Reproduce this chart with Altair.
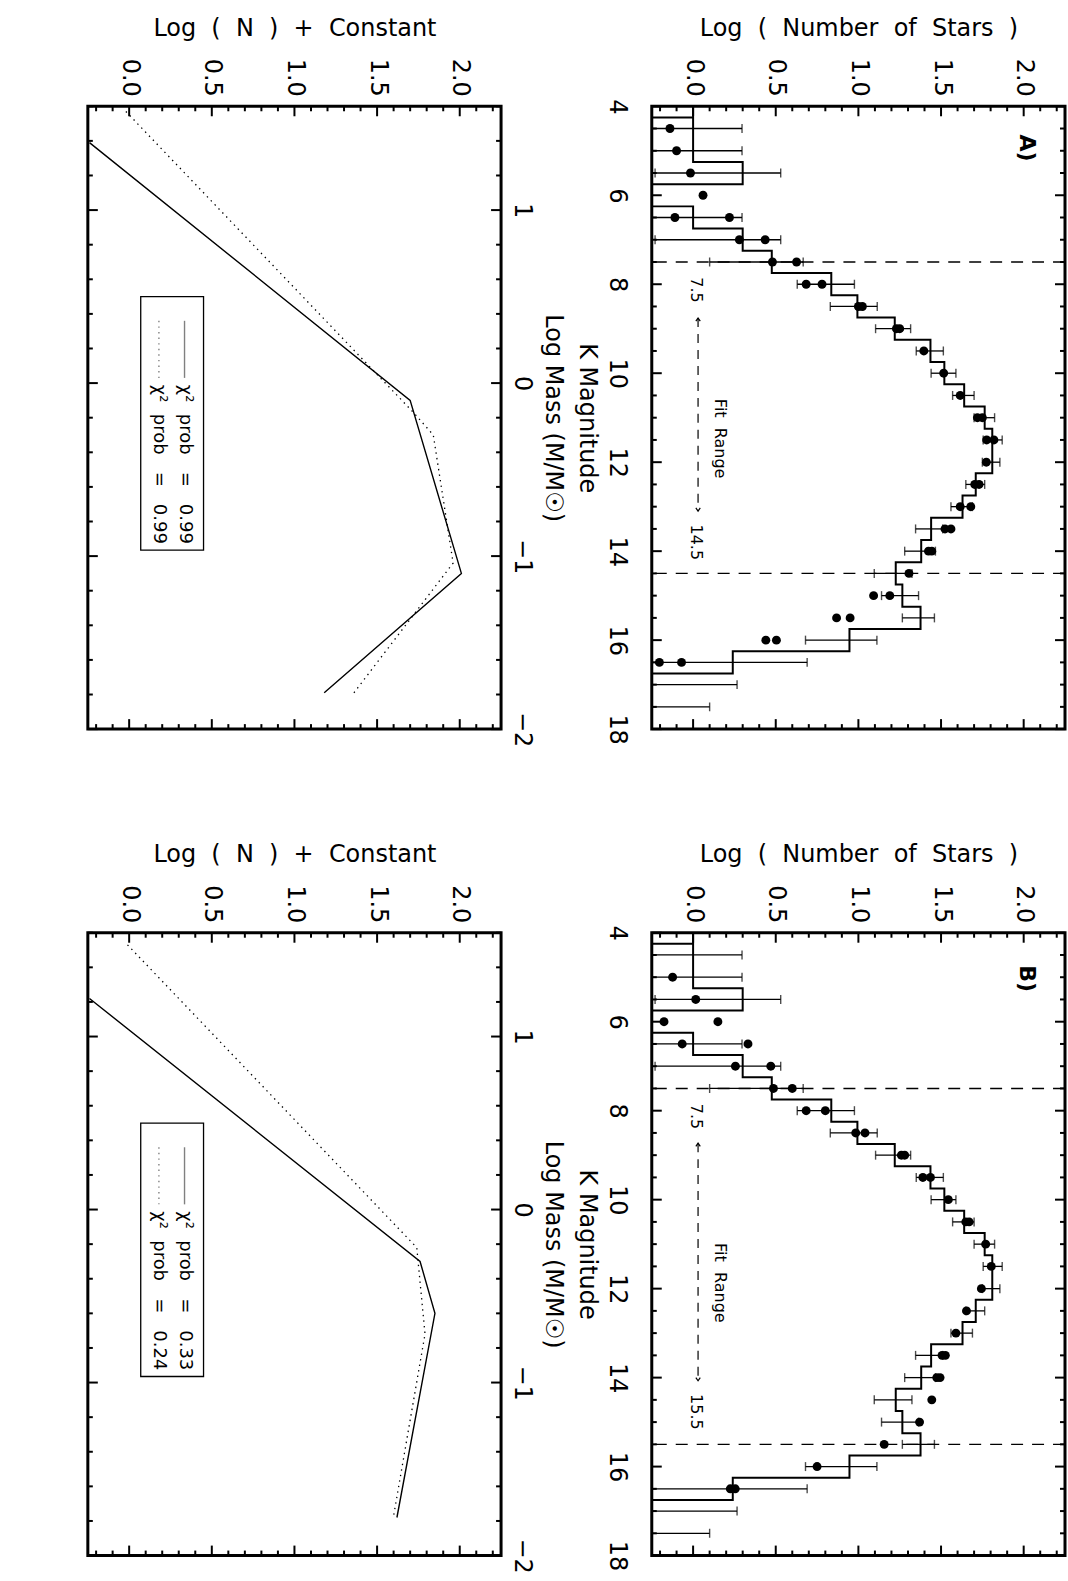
import altair as alt
import numpy as np
import pandas as pd

FONT = "DejaVu Sans"
PANEL_W, PANEL_H = 414, 624
OFF = -1.0  # stands in for log(0): lies outside the plotted range and is clipped

# ---------------- observed K-band histogram (0.5 mag bins, same in A and B)
HIST_K = [4.0, 4.5, 5.0, 5.5, 6.0, 6.5, 7.0, 7.5, 8.0, 8.5, 9.0, 9.5, 10.0, 10.5,
          11.0, 11.5, 12.0, 12.5, 13.0, 13.5, 14.0, 14.5, 15.0, 15.5, 16.0, 16.5, 17.0, 17.5]
HIST_LOGN = [0.0, 0.0, 0.0, 0.30, None, 0.0, 0.30, 0.476, 0.836, 0.994, 1.22, 1.436, 1.52, 1.64,
             1.764, 1.81, 1.81, 1.71, 1.63, 1.44, 1.38, 1.226, 1.266, 1.376, 0.946, 0.24, None, None]

# counting errors on the histogram (None = unbounded below)
ERR_K = [4.5, 5.0, 5.5, 6.5, 7.0, 7.5, 8.0, 8.5, 9.0, 9.5, 10.0, 10.5, 11.0,
         11.5, 12.0, 12.5, 13.0, 13.5, 14.0, 14.5, 15.0, 15.5, 16.0, 16.5, 17.0, 17.5]
ERR_LO = [None, None, -0.23, None, -0.23, 0.10, 0.63, 0.83, 1.104, 1.35, 1.44, 1.57, 1.70,
          1.755, 1.75, 1.65, 1.56, 1.346, 1.28, 1.096, 1.14, 1.266, 0.68, None, None, None]
ERR_HI = [0.296, 0.296, 0.53, 0.296, 0.53, 0.666, 0.976, 1.114, 1.316, 1.514, 1.59, 1.70, 1.824,
          1.87, 1.856, 1.764, 1.69, 1.51, 1.466, 1.324, 1.364, 1.46, 1.112, 0.69, 0.266, 0.10]

# model luminosity functions (filled circles)
DOTS_A_K = [4.5, 5.0, 5.5, 6.0, 6.5, 6.5, 7.0, 7.0, 7.5, 7.5, 8.0, 8.0, 8.5, 8.5, 9.0, 9.0,
            9.5, 10.0, 10.5, 11.0, 11.0, 11.5, 11.5, 12.0, 12.5, 12.5, 13.0, 13.0, 13.5, 13.5,
            14.0, 14.0, 14.5, 15.0, 15.0, 15.5, 15.5, 16.0, 16.0, 16.5, 16.5]
DOTS_A_LOGN = [-0.14, -0.10, -0.016, 0.06, -0.11, 0.22, 0.28, 0.436, 0.48, 0.626, 0.684, 0.78,
               1.0, 1.024, 1.23, 1.25, 1.396, 1.516, 1.616, 1.72, 1.75, 1.776, 1.82, 1.774,
               1.704, 1.73, 1.616, 1.68, 1.524, 1.56, 1.424, 1.444, 1.306, 1.092, 1.19,
               0.868, 0.95, 0.44, 0.504, -0.204, -0.07]
DOTS_B_K = [5.0, 5.5, 6.0, 6.0, 6.5, 6.5, 7.0, 7.0, 7.5, 7.5, 8.0, 8.0, 8.5, 8.5, 9.0, 9.0,
            9.5, 9.5, 10.0, 10.5, 10.5, 11.0, 11.5, 12.0, 12.5, 13.0, 13.5, 13.5, 14.0, 14.0,
            14.5, 15.0, 15.5, 16.0, 16.5, 16.5]
DOTS_B_LOGN = [-0.124, 0.016, -0.176, 0.15, -0.066, 0.332, 0.256, 0.47, 0.486, 0.60, 0.684, 0.80,
               0.984, 1.04, 1.26, 1.28, 1.39, 1.436, 1.544, 1.65, 1.67, 1.77, 1.804, 1.744,
               1.654, 1.59, 1.506, 1.526, 1.474, 1.494, 1.444, 1.37, 1.156, 0.75, 0.225, 0.255]

FIT_A = [7.5, 14.5]
FIT_B = [7.5, 15.5]

# ---------------- mass functions
MF_A_SOLID_M = [1.39, -0.10, -1.10, -1.79]
MF_A_SOLID_N = [-0.24, 1.70, 2.01, 1.18]
MF_A_DOT_M = [1.57, -0.17, -0.30, -1.04, -1.79]
MF_A_DOT_N = [-0.02, 1.72, 1.84, 1.96, 1.36]
MF_B_SOLID_M = [1.22, -0.30, -0.60, -1.78]
MF_B_SOLID_N = [-0.24, 1.76, 1.85, 1.62]
MF_B_DOT_M = [1.53, -0.22, -0.72, -1.77]
MF_B_DOT_N = [-0.01, 1.74, 1.79, 1.60]

CHI2_A = [0.99, 0.99]
CHI2_B = [0.33, 0.24]

# ---------------- scales and shared styling
SN = alt.Scale(domain=[-0.25, 2.25], nice=False, zero=False)
SK = alt.Scale(domain=[4, 18], reverse=True, nice=False, zero=False)
SM = alt.Scale(domain=[-2.0, 1.6], nice=False, zero=False)

NB = "\u00a0"


def spaced(*words, gap=2):
    return (NB * gap).join(words)


def XN(field):
    return alt.X(field, type="quantitative", scale=SN)


def YK(field):
    return alt.Y(field, type="quantitative", scale=SK)


def YM(field):
    return alt.Y(field, type="quantitative", scale=SM)


AX_COMMON = dict(ticks=False, tickSize=0, domain=False, grid=False, labelFlush=False,
                 labelOverlap=False, labelFont=FONT, titleFont=FONT, labelFontSize=24,
                 titleFontSize=24, titleFontWeight="normal", labelColor="black",
                 titleColor="black")


def top_axis(title):
    return alt.Axis(orient="top", title=title, values=[0.0, 0.5, 1.0, 1.5, 2.0], format=".1f",
                    labelAngle=90, labelAlign="right", labelBaseline="middle",
                    labelPadding=10, titlePadding=18, **AX_COMMON)


def k_axis():
    return alt.Axis(orient="left", title="K Magnitude", values=list(range(4, 19, 2)),
                    format="d", labelAngle=90, labelAlign="center", labelBaseline="top",
                    labelPadding=23, titleAngle=90, titleBaseline="top", titlePadding=6,
                    **AX_COMMON)


def mass_axis():
    return alt.Axis(orient="right", title="Log Mass (M/M\u2609)", values=[1, 0, -1, -2],
                    format="d", labelAngle=90, labelAlign="center", labelBaseline="bottom",
                    labelPadding=8, titleAngle=90, titleBaseline="bottom", titlePadding=8,
                    **AX_COMMON)


def inner_ticks(x_major, x_minor, y_major, y_minor, yenc):
    """IDL-style ticks drawn inward on all four sides of the frame."""
    layers = []
    for vals, ln in ((x_major, 10), (x_minor, 5)):
        base = alt.Chart(pd.DataFrame({"v": vals})).mark_rule(color="black", strokeWidth=2)
        layers.append(base.encode(x=XN("v"), y=alt.value(0), y2=alt.value(ln)))
        layers.append(base.encode(x=XN("v"), y=alt.value(PANEL_H), y2=alt.value(PANEL_H - ln)))
    for vals, ln in ((y_major, 10), (y_minor, 5)):
        base = alt.Chart(pd.DataFrame({"v": vals})).mark_rule(color="black", strokeWidth=2)
        layers.append(base.encode(y=yenc("v"), x=alt.value(0), x2=alt.value(ln)))
        layers.append(base.encode(y=yenc("v"), x=alt.value(PANEL_W), x2=alt.value(PANEL_W - ln)))
    return layers


N_MAJOR = [0.0, 0.5, 1.0, 1.5, 2.0]
N_MINOR = [round(v, 1) for v in np.arange(-0.2, 2.25, 0.1) if round(v * 10) % 5 != 0]
K_MAJOR = list(range(4, 19, 2))
K_MINOR = [v for v in np.arange(4.0, 18.01, 0.5) if v % 2 != 0]
M_MAJOR = [1, 0, -1, -2]
M_MINOR = [round(v, 1) for v in np.arange(-2.0, 1.61, 0.2) if abs(v - round(v)) > 1e-6]


def histogram_path():
    rows = []
    for c, v in zip(HIST_K, HIST_LOGN):
        val = OFF if v is None else v
        rows.append({"k": c - 0.25, "logn": val, "seg": 1})
        rows.append({"k": c + 0.25, "logn": val, "seg": 1})
    # lower edge of the first bin
    rows.append({"k": HIST_K[0] + 0.25, "logn": OFF, "seg": 0})
    rows.append({"k": HIST_K[0] + 0.25, "logn": HIST_LOGN[0], "seg": 0})
    df = pd.DataFrame(rows)
    df["i"] = range(len(df))
    return df


def k_panel(dots_k, dots_n, fit, tag, tag_k, arrow_span, hi_label_k, fit_text_k):
    dots = pd.DataFrame({"k": dots_k, "logn": dots_n})
    err = pd.DataFrame({"k": ERR_K,
                        "lo": [OFF if v is None else v for v in ERR_LO],
                        "hi": ERR_HI})
    lo_caps = err[[v is not None for v in ERR_LO]]

    layers = [alt.Chart(dots).mark_circle(size=80, color="black", opacity=1, clip=True).encode(
        x=alt.X("logn:Q", scale=SN,
                axis=top_axis(spaced("Log", "(", "Number", "of", "Stars", ")"))),
        y=alt.Y("k:Q", scale=SK, axis=k_axis()))]

    layers += inner_ticks(N_MAJOR, N_MINOR, K_MAJOR, K_MINOR, YK)

    layers.append(alt.Chart(pd.DataFrame({"k": fit})).mark_rule(
        color="black", strokeWidth=1.4, strokeDash=[12, 9]).encode(y=YK("k")))

    layers.append(alt.Chart(histogram_path()).mark_line(
        color="black", strokeWidth=2, clip=True).encode(
        x=XN("logn"), y=YK("k"), detail="seg:N", order="i:Q"))

    layers.append(alt.Chart(err).mark_rule(color="black", strokeWidth=1.3, clip=True).encode(
        x=XN("lo"), x2="hi:Q", y=YK("k")))
    layers.append(alt.Chart(err).mark_tick(
        orient="vertical", color="black", size=9, thickness=1.4, clip=True).encode(
        x=XN("hi"), y=YK("k")))
    layers.append(alt.Chart(lo_caps).mark_tick(
        orient="vertical", color="black", size=9, thickness=1.4, clip=True).encode(
        x=XN("lo"), y=YK("k")))

    # fit-range annotation
    arrow = pd.DataFrame({"x": [0.03], "k0": [arrow_span[0]], "k1": [arrow_span[1]]})
    layers.append(alt.Chart(arrow).mark_rule(
        color="black", strokeWidth=1.2, strokeDash=[9, 7]).encode(
        x=XN("x"), y=YK("k0"), y2="k1:Q"))
    heads = pd.DataFrame({"x": [0.03, 0.03], "k": list(arrow_span),
                          "shape": ["M-0.7,1L0,0L0.7,1", "M-0.7,-1L0,0L0.7,-1"]})
    layers.append(alt.Chart(heads).mark_point(
        filled=False, color="black", strokeWidth=1.2, size=40, opacity=1).encode(
        x=XN("x"), y=YK("k"), shape=alt.Shape("shape:N", scale=None)))
    labels = pd.DataFrame({"x": [0.02, 0.02, 0.16], "k": [8.13, hi_label_k, fit_text_k],
                           "t": [f"{fit[0]:.1f}", f"{fit[1]:.1f}", spaced("Fit", "Range")]})
    layers.append(alt.Chart(labels).mark_text(
        angle=90, font=FONT, fontSize=16, color="black", align="center",
        baseline="middle").encode(x=XN("x"), y=YK("k"), text="t:N"))

    layers.append(alt.Chart(pd.DataFrame({"x": [2.02], "k": [tag_k], "t": [tag]})).mark_text(
        angle=90, font=FONT, fontSize=22, fontWeight="bold", color="black", align="center",
        baseline="middle").encode(x=XN("x"), y=YK("k"), text="t:N"))

    return alt.layer(*layers).properties(width=PANEL_W, height=PANEL_H)


def mass_panel(solid_m, solid_n, dot_m, dot_n, chi2):
    solid = pd.DataFrame({"logm": solid_m, "logn": solid_n})
    solid["i"] = range(len(solid))
    dotted = pd.DataFrame({"logm": dot_m, "logn": dot_n})
    dotted["i"] = range(len(dotted))

    layers = [alt.Chart(solid).mark_line(color="black", strokeWidth=1.4, clip=True).encode(
        x=alt.X("logn:Q", scale=SN,
                axis=top_axis(spaced("Log", "(", "N", ")", "+", "Constant"))),
        y=alt.Y("logm:Q", scale=SM, axis=mass_axis()), order="i:Q")]

    layers += inner_ticks(N_MAJOR, N_MINOR, M_MAJOR, M_MINOR, YM)

    layers.append(alt.Chart(dotted).mark_line(
        color="black", strokeWidth=1.3, strokeDash=[1.4, 4.2], clip=True).encode(
        x=XN("logn"), y=YM("logm"), order="i:Q"))

    # legend
    box = pd.DataFrame({"x0": [0.07], "x1": [0.45], "y0": [0.50], "y1": [-0.965]})
    layers.append(alt.Chart(box).mark_rect(
        filled=False, stroke="black", strokeWidth=1.3).encode(
        x=XN("x0"), x2="x1:Q", y=YM("y0"), y2="y1:Q"))
    rows = [0.335, 0.18]
    samples = pd.DataFrame({"x": rows, "y0": [0.36, 0.36], "y1": [0.03, 0.03]})
    layers.append(alt.Chart(samples.iloc[[0]]).mark_rule(
        color="#808080", strokeWidth=1.4).encode(x=XN("x"), y=YM("y0"), y2="y1:Q"))
    layers.append(alt.Chart(samples.iloc[[1]]).mark_rule(
        color="#808080", strokeWidth=1.4, strokeDash=[1.4, 4.2]).encode(
        x=XN("x"), y=YM("y0"), y2="y1:Q"))
    texts = pd.DataFrame({"x": rows, "y": [-0.01, -0.01],
                          "t": [spaced("\u03c7\u00b2", "prob", gap=2) + NB * 3 + "="
                                + NB * 3 + f"{v:.2f}" for v in chi2]})
    layers.append(alt.Chart(texts).mark_text(
        angle=90, font=FONT, fontSize=18, color="black", align="left",
        baseline="middle").encode(x=XN("x"), y=YM("y"), text="t:N"))

    return alt.layer(*layers).properties(width=PANEL_W, height=PANEL_H)


chart = alt.concat(
    mass_panel(MF_A_SOLID_M, MF_A_SOLID_N, MF_A_DOT_M, MF_A_DOT_N, CHI2_A),
    k_panel(DOTS_A_K, DOTS_A_LOGN, FIT_A, "A)", 4.94, (8.76, 13.1), 13.8, 11.47),
    mass_panel(MF_B_SOLID_M, MF_B_SOLID_N, MF_B_DOT_M, MF_B_DOT_N, CHI2_B),
    k_panel(DOTS_B_K, DOTS_B_LOGN, FIT_B, "B)", 5.03, (8.73, 14.07), 14.77, 11.87),
    columns=2, spacing={"row": 204, "column": 151}, bounds="flush",
).properties(
    padding={"left": 85, "top": 13, "right": 0, "bottom": 0}
).configure_view(stroke="black", strokeWidth=3)

chart.save("out.html", embed_options={"renderer": "svg", "actions": False})
